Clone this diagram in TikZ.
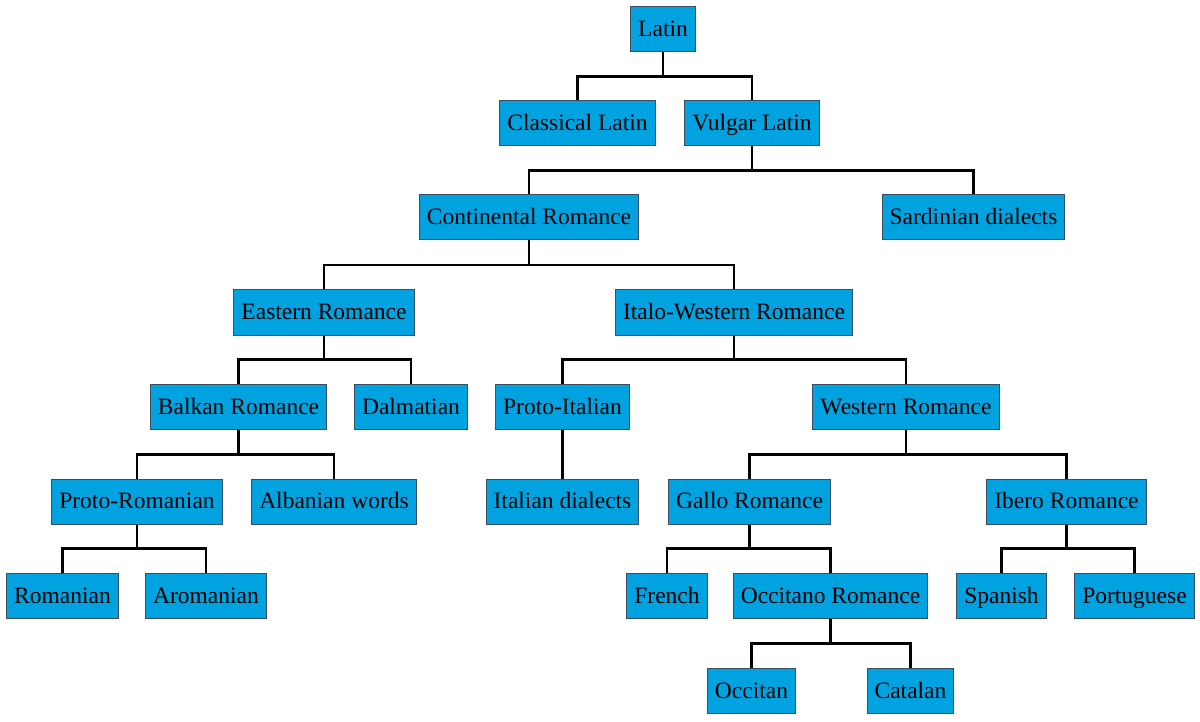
\documentclass[tikz,border=0pt]{standalone}
\usepackage{fontspec}
\setmainfont{Liberation Serif}
\usetikzlibrary{calc}
\definecolor{boxfill}{HTML}{00A3DF}
\definecolor{boxline}{HTML}{3A4E60}
\tikzset{
  lang/.style={draw=boxline, line width=1pt, fill=boxfill, inner xsep=7.5pt, inner ysep=0pt,
    minimum height=45pt, text height=19pt, text depth=5pt,
    font=\fontsize{23.5}{28}\selectfont, text=black, anchor=center},
  tree/.style={draw=black, line width=2.7pt,
    to path={(\tikztostart) |- ($(\tikztostart)!0.5!(\tikztotarget)$) -| (\tikztotarget)}}
}
\begin{document}
\begin{tikzpicture}[x=1pt,y=-1pt]
\useasboundingbox (0,0) rectangle (1200,722);
% nodes
\node[lang] (latin) at (663,29.5) {Latin};
\node[lang] (classical) at (577.5,123.5) {Classical Latin};
\node[lang] (vulgar) at (752,123.5) {Vulgar Latin};
\node[lang] (cont) at (529,217.5) {Continental Romance};
\node[lang] (sard) at (973.5,217.5) {Sardinian dialects};
\node[lang] (east) at (324,312.5) {Eastern Romance};
\node[lang] (italo) at (734,312.5) {Italo-Western Romance};
\node[lang] (balkan) at (238.5,407) {Balkan Romance};
\node[lang] (dalm) at (411,407) {Dalmatian};
\node[lang] (protoit) at (562.5,407) {Proto-Italian};
\node[lang] (western) at (906,407) {Western Romance};
\node[lang] (protorom) at (137,501.5) {Proto-Romanian};
\node[lang] (alb) at (334,501.5) {Albanian words};
\node[lang] (itdial) at (562.5,501.5) {Italian dialects};
\node[lang] (gallo) at (749.5,501.5) {Gallo Romance};
\node[lang] (ibero) at (1066.5,501.5) {Ibero Romance};
\node[lang] (romanian) at (62.5,596) {Romanian};
\node[lang] (aromanian) at (206,596) {Aromanian};
\node[lang] (french) at (667,596) {French};
\node[lang] (occrom) at (830.5,596) {Occitano Romance};
\node[lang] (spanish) at (1001.5,596) {Spanish};
\node[lang] (portuguese) at (1134.5,596) {Portuguese};
\node[lang] (occitan) at (751.5,691) {Occitan};
\node[lang] (catalan) at (910.5,691) {Catalan};
% connectors
\draw[tree] (latin.south) to (classical.north);
\draw[tree] (latin.south) to (vulgar.north);
\draw[tree] (vulgar.south) to (cont.north);
\draw[tree] (vulgar.south) to (sard.north);
\draw[tree] (cont.south) to (east.north);
\draw[tree] (cont.south) to (italo.north);
\draw[tree] (east.south) to (balkan.north);
\draw[tree] (east.south) to (dalm.north);
\draw[tree] (italo.south) to (protoit.north);
\draw[tree] (italo.south) to (western.north);
\draw[tree] (balkan.south) to (protorom.north);
\draw[tree] (balkan.south) to (alb.north);
\draw[tree] (protoit.south) to (itdial.north);
\draw[tree] (western.south) to (gallo.north);
\draw[tree] (western.south) to (ibero.north);
\draw[tree] (protorom.south) to (romanian.north);
\draw[tree] (protorom.south) to (aromanian.north);
\draw[tree] (gallo.south) to (french.north);
\draw[tree] (gallo.south) to (occrom.north);
\draw[tree] (ibero.south) to (spanish.north);
\draw[tree] (ibero.south) to (portuguese.north);
\draw[tree] (occrom.south) to (occitan.north);
\draw[tree] (occrom.south) to (catalan.north);
\end{tikzpicture}
\end{document}
